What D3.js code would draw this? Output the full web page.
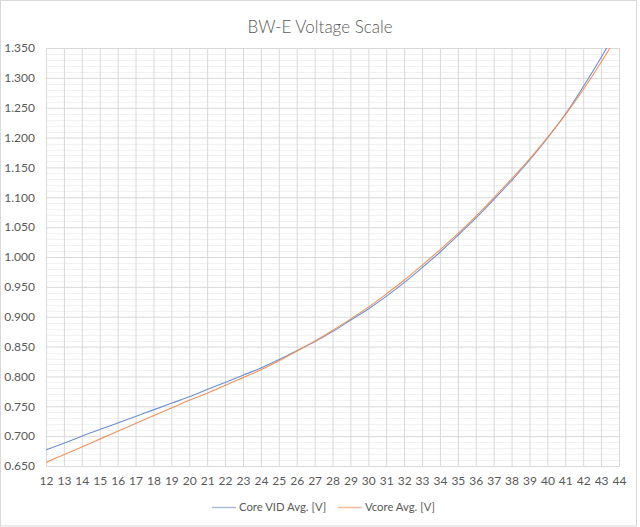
<!DOCTYPE html>
<html>
<head>
<meta charset="utf-8">
<script src="https://cdn.jsdelivr.net/npm/d3@7"></script>
<style>
  html, body { margin: 0; padding: 0; background: #fff; }
  svg { display: block; }
  text { font-family: Lato, "Open Sans", sans-serif; fill: #595959; }
</style>
</head>
<body>
<svg id="chart" width="640" height="527"></svg>
<script>
// Core ratio steps (x axis)
const categories = d3.range(12, 45);

// Average Core VID per ratio [V]
const coreVid = [
  0.677, 0.688, 0.700, 0.711, 0.722, 0.733, 0.744, 0.755, 0.766, 0.778,
  0.790, 0.802, 0.814, 0.828, 0.843, 0.858, 0.875, 0.894, 0.913, 0.934,
  0.957, 0.982, 1.008, 1.036, 1.065, 1.096, 1.128, 1.162, 1.199, 1.239,
  1.285, 1.334, 1.387
];

// Average measured Vcore per ratio [V]
const vcore = [
  0.656, 0.669, 0.682, 0.695, 0.708, 0.721, 0.734, 0.747, 0.760, 0.772,
  0.785, 0.798, 0.811, 0.826, 0.842, 0.859, 0.877, 0.896, 0.916, 0.938,
  0.961, 0.986, 1.012, 1.039, 1.068, 1.099, 1.131, 1.164, 1.200, 1.238,
  1.280, 1.326, 1.375
];

const yTicks = d3.range(0, 15).map(i => +(0.65 + i * 0.05).toFixed(3));
const yMinorTicks = d3.range(0, 71).map(i => +(0.65 + i * 0.01).toFixed(3));

const seriesNames = ["Core VID Avg. [V]", "Vcore Avg. [V]"];
const seriesColors = ["#6b8fd2", "#f0925c"];
const legendColors = ["#a9bde2", "#f4bc9a"];

const svg = d3.select("#chart");
const plot = { left: 46, right: 619, top: 48, bottom: 466 };

// chart frame
svg.append("rect")
  .attr("x", 0.5).attr("y", 0.5)
  .attr("width", 636).attr("height", 525.5)
  .attr("fill", "#fff").attr("stroke", "#d9d9d9");

const x = d3.scalePoint().domain(categories).range([plot.left, plot.right]);
const y = d3.scaleLinear().domain([0.65, 1.35]).range([plot.bottom, plot.top]);

// minor horizontal gridlines
svg.append("g")
  .selectAll("line")
  .data(yMinorTicks.filter(v => !yTicks.some(t => Math.abs(t - v) < 1e-6)))
  .join("line")
  .attr("x1", plot.left).attr("x2", plot.right)
  .attr("y1", d => Math.round(y(d)) + 0.5).attr("y2", d => Math.round(y(d)) + 0.5)
  .attr("stroke", "#f2f2f2");

// vertical gridlines at every category
svg.append("g")
  .attr("transform", `translate(0,${plot.bottom})`)
  .call(d3.axisBottom(x).tickSize(-(plot.bottom - plot.top)).tickFormat(""))
  .call(g => g.select(".domain").remove())
  .call(g => g.selectAll(".tick line").attr("stroke", "#d9d9d9"));

// major horizontal gridlines + y labels
svg.append("g")
  .attr("transform", `translate(${plot.left},0)`)
  .call(d3.axisLeft(y).tickValues(yTicks)
    .tickSize(-(plot.right - plot.left)).tickPadding(11)
    .tickFormat(d3.format(".3f")))
  .call(g => g.select(".domain").remove())
  .call(g => g.selectAll(".tick line").attr("stroke", "#d9d9d9"))
  .call(g => g.selectAll(".tick text")
    .style("font-family", "Lato, 'Open Sans', sans-serif")
    .style("font-size", "12px").attr("fill", "#595959"));

// x labels
svg.append("g")
  .attr("transform", `translate(0,${plot.bottom})`)
  .call(d3.axisBottom(x).tickSize(0).tickPadding(10))
  .call(g => g.select(".domain").attr("stroke", "#d9d9d9"))
  .call(g => g.selectAll(".tick text")
    .style("font-family", "Lato, 'Open Sans', sans-serif")
    .style("font-size", "12px").attr("fill", "#595959"));

// clip series to the plot area
svg.append("defs").append("clipPath").attr("id", "plotClip")
  .append("rect")
  .attr("x", plot.left).attr("y", plot.top)
  .attr("width", plot.right - plot.left).attr("height", plot.bottom - plot.top);

const line = d3.line()
  .x((d, i) => x(categories[i]))
  .y(d => y(d))
  .curve(d3.curveCatmullRom);

const series = [coreVid, vcore];
svg.append("g").attr("clip-path", "url(#plotClip)")
  .selectAll("path")
  .data(series)
  .join("path")
  .attr("d", d => line(d))
  .attr("fill", "none")
  .attr("stroke", (d, i) => seriesColors[i])
  .attr("stroke-width", 1.1);

// title
svg.append("text")
  .attr("x", 320).attr("y", 33)
  .attr("text-anchor", "middle")
  .style("font-size", "17px")
  .style("font-weight", "300")
  .style("font-family", "Lato, 'Open Sans', sans-serif")
  .attr("fill", "#595959")
  .text("BW-E Voltage Scale");

// legend
const legend = svg.append("g");
const legendX = [212, 338];
seriesNames.forEach((name, i) => {
  legend.append("line")
    .attr("x1", legendX[i]).attr("x2", legendX[i] + 24)
    .attr("y1", 507.5).attr("y2", 507.5)
    .attr("stroke", legendColors[i]).attr("stroke-width", 1.5);
  legend.append("text")
    .attr("x", legendX[i] + 27).attr("y", 507.5)
    .attr("dy", "0.35em")
    .style("font-size", "11.3px")
    .attr("fill", "#595959")
    .text(name);
});
</script>
</body>
</html>
